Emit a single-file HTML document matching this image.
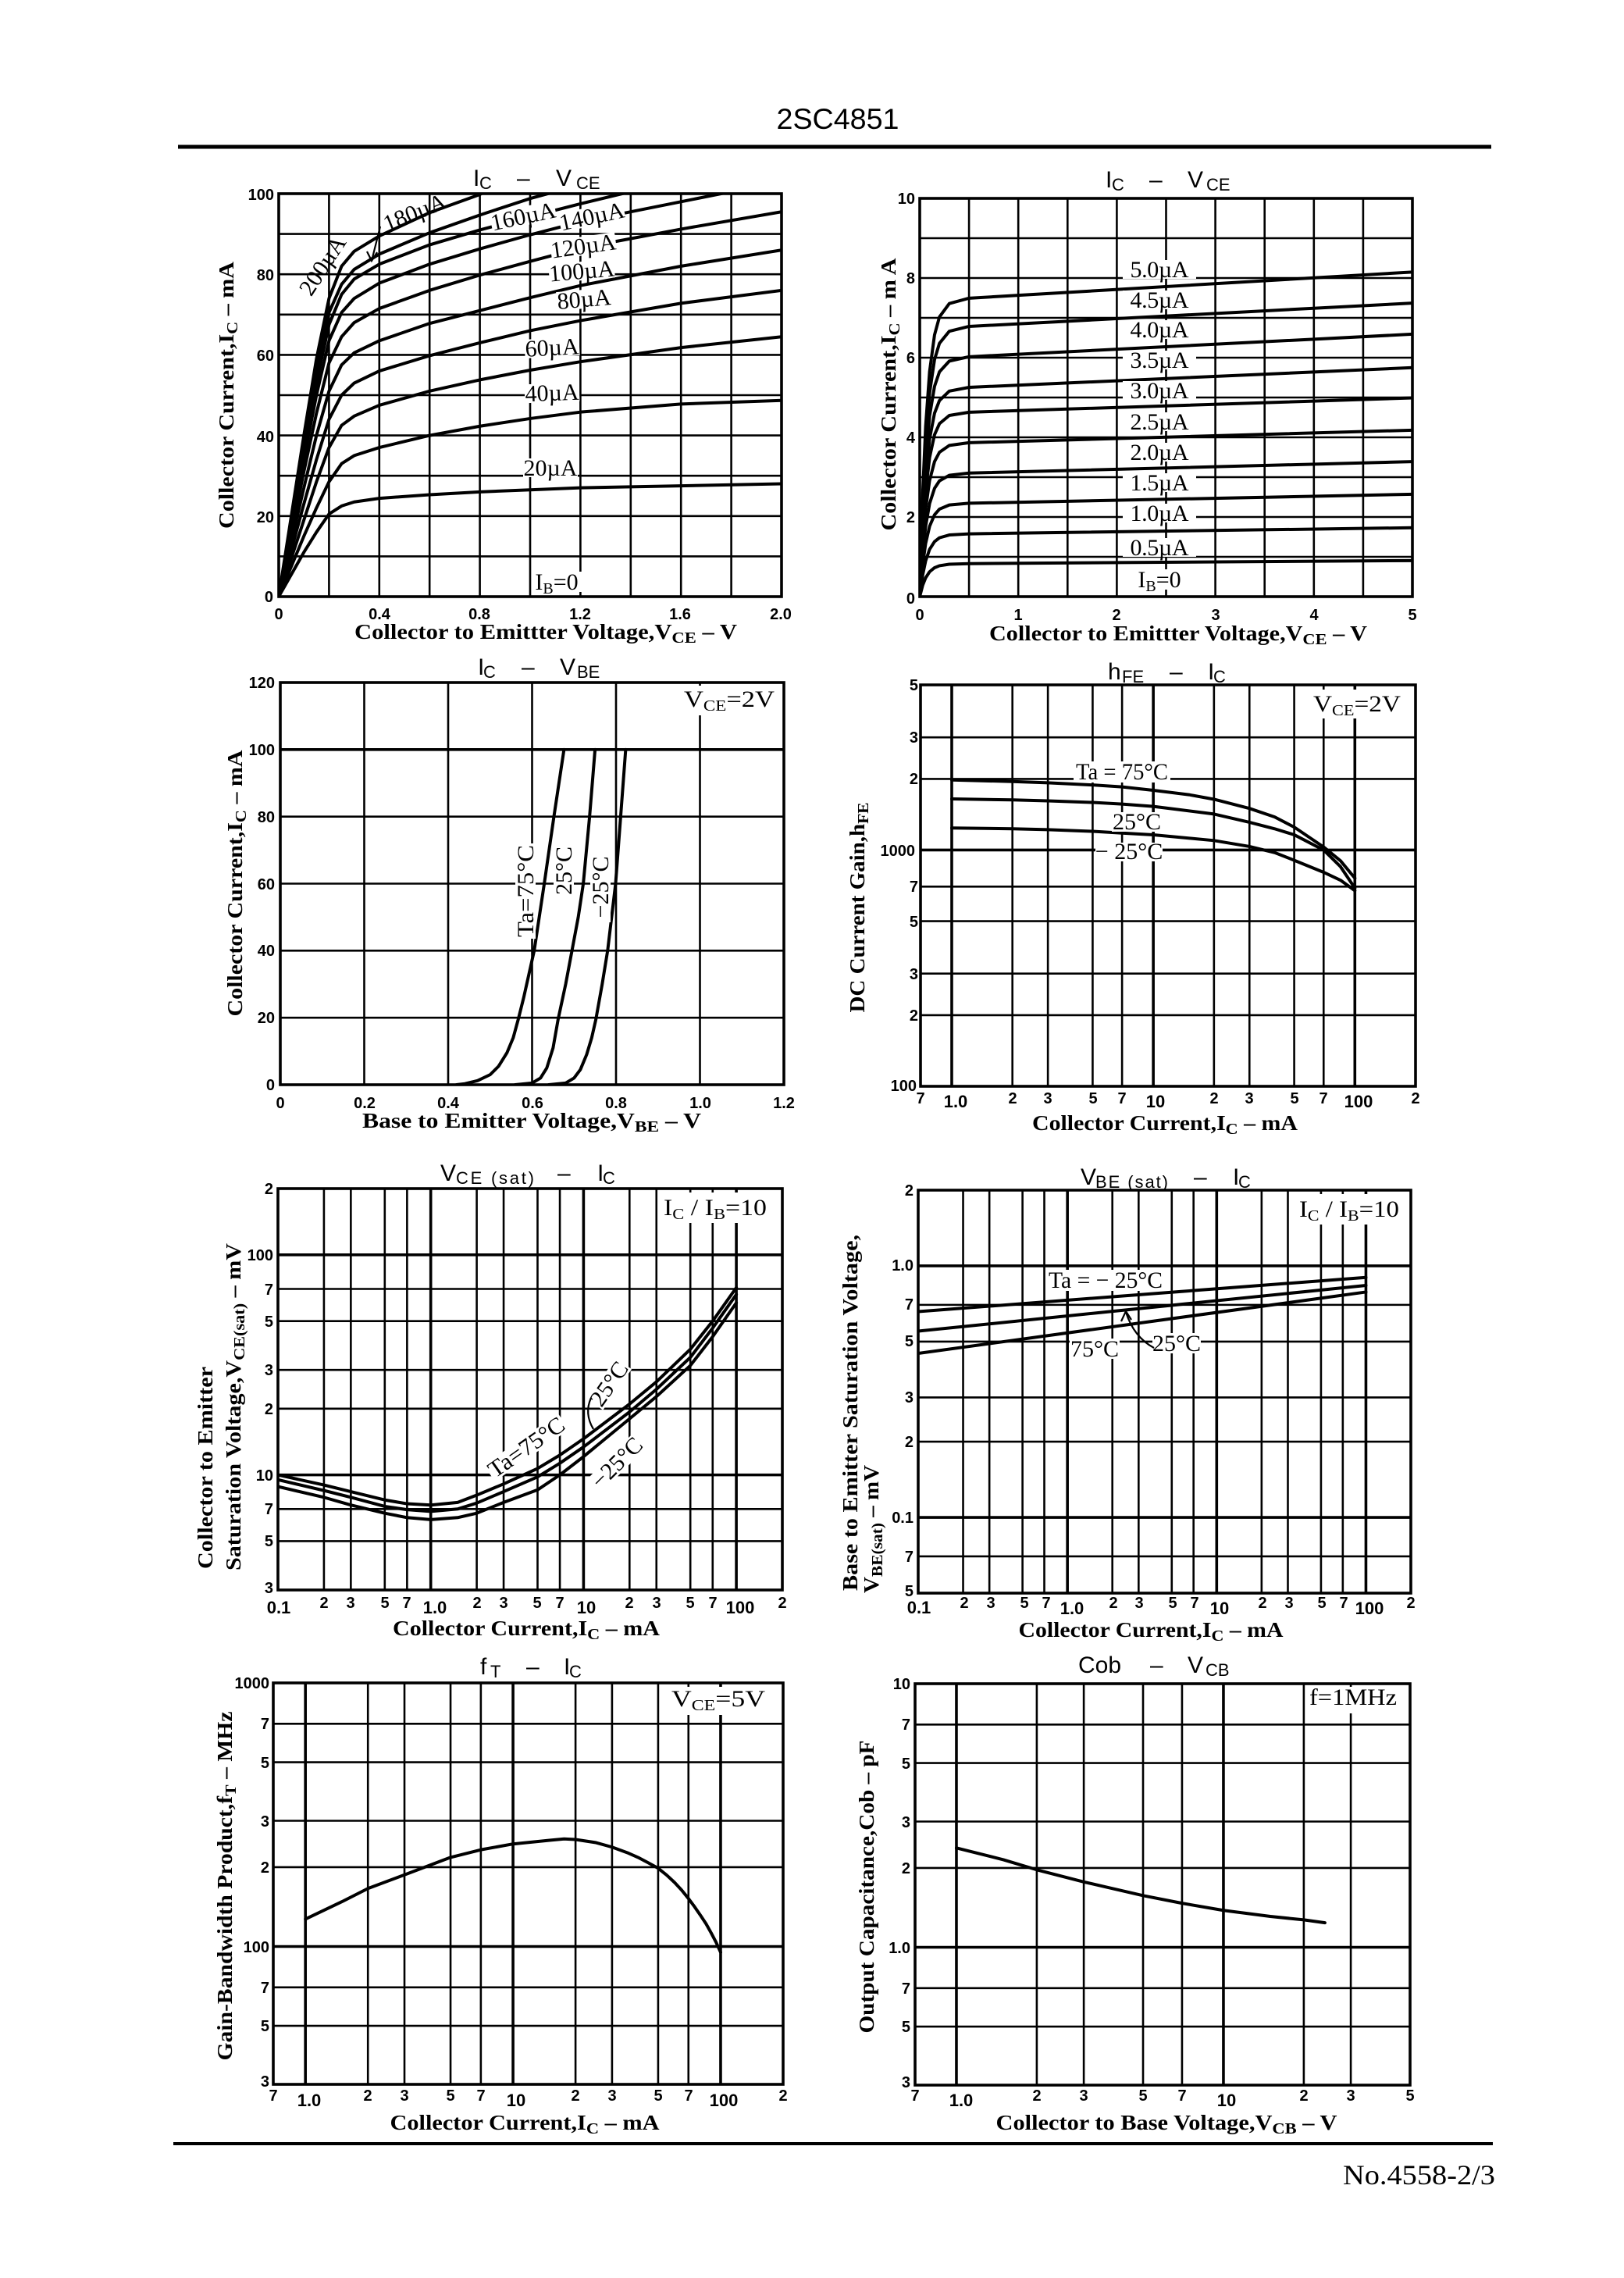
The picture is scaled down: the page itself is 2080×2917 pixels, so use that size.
<!DOCTYPE html>
<html><head><meta charset="utf-8">
<style>
html,body{margin:0;padding:0;background:#fff}
svg{display:block}
.tk{font-family:"Liberation Sans",sans-serif;font-weight:bold;font-size:20px}
.tkb{font-family:"Liberation Sans",sans-serif;font-weight:bold;font-size:22px}
.e{text-anchor:end}
.m{text-anchor:middle}
.ax{font-family:"Liberation Serif",serif;font-weight:bold;font-size:27px}
.lb{font-family:"Liberation Serif",serif;font-size:30px}
.ti{font-family:"Liberation Sans",sans-serif;font-size:30px}
.hd{font-family:"Liberation Sans",sans-serif;font-size:37px}
.ft{font-family:"Liberation Serif",serif;font-size:36px}
.g{fill:none;stroke:#000;stroke-width:2.6px;vector-effect:non-scaling-stroke}
.gt{fill:none;stroke:#000;stroke-width:3.6px;vector-effect:non-scaling-stroke}
.c{fill:none;stroke:#000;stroke-width:4px;stroke-linejoin:round;stroke-linecap:round;vector-effect:non-scaling-stroke}
.f{fill:none;stroke:#000;stroke-width:3.6px}
.w{fill:#fff}
.ld{fill:none;stroke:#000;stroke-width:2.2px}
</style></head><body>
<svg width="2080" height="2917" viewBox="0 0 2080 2917">
<rect width="2080" height="2917" fill="#fff"/>

<!-- Header / footer -->
<text class="hd m" x="1073" y="165" textLength="157" lengthAdjust="spacingAndGlyphs">2SC4851</text>
<line x1="228" y1="188" x2="1910" y2="188" stroke="#000" stroke-width="5"/>
<line x1="222" y1="2745" x2="1912" y2="2745" stroke="#000" stroke-width="4"/>
<text class="ft e" x="1915" y="2797" textLength="195" lengthAdjust="spacingAndGlyphs">No.4558-2/3</text>

<!-- ================= CHART 1 : IC - VCE (0-2V) ================= -->
<svg x="357" y="248" width="644" height="516" viewBox="0 -100 2 100" preserveAspectRatio="none">
<path class="g" d="M0.2,-100V0M0.4,-100V0M0.6,-100V0M0.8,-100V0M1,-100V0M1.2,-100V0M1.4,-100V0M1.6,-100V0M1.8,-100V0M0,-10H2M0,-20H2M0,-30H2M0,-40H2M0,-50H2M0,-60H2M0,-70H2M0,-80H2M0,-90H2"/>
<polyline class="c" points="0,0 0.05,-5.5 0.1,-11 0.15,-16 0.2,-20.5 0.25,-22.5 0.3,-23.5 0.4,-24.4 0.6,-25.3 0.8,-26 1,-26.5 1.2,-27 1.6,-27.5 2,-28"/>
<polyline class="c" points="0,0 0.05,-7.5 0.1,-15 0.15,-22 0.2,-28.5 0.25,-33 0.3,-35 0.4,-37 0.6,-40 0.8,-42.3 1,-44.2 1.2,-45.8 1.6,-47.8 2,-48.7"/>
<polyline class="c" points="0,0 0.05,-9.5 0.1,-19 0.15,-28.5 0.2,-37 0.25,-42.5 0.3,-44.8 0.4,-47.5 0.6,-51 0.8,-53.8 1,-56.2 1.2,-58.3 1.6,-61.8 2,-64.5"/>
<polyline class="c" points="0,0 0.05,-11.5 0.1,-23 0.15,-34 0.2,-44 0.25,-50 0.3,-53 0.4,-56 0.6,-59.8 0.8,-63 1,-66 1.2,-68.5 1.6,-72.8 2,-76"/>
<polyline class="c" points="0,0 0.05,-13.5 0.1,-27 0.15,-40 0.2,-51 0.25,-57.5 0.3,-60.5 0.4,-63.5 0.6,-67.8 0.8,-71 1,-74.2 1.2,-77.2 1.6,-82 2,-86"/>
<polyline class="c" points="0,0 0.05,-15.5 0.1,-31 0.15,-45.5 0.2,-58 0.25,-64.5 0.3,-68 0.4,-71.5 0.6,-76 0.8,-79.8 1,-83.2 1.2,-86.5 1.6,-91.2 2,-95.5"/>
<polyline class="c" points="0,0 0.05,-17 0.1,-34 0.15,-50 0.2,-63.5 0.25,-70.5 0.3,-74 0.4,-77.8 0.6,-82.5 0.8,-86.3 1,-89.8 1.2,-93 1.6,-98 1.8,-100.5"/>
<polyline class="c" points="0,0 0.05,-18 0.1,-36 0.15,-53 0.2,-67.5 0.25,-75 0.3,-78.8 0.4,-82.5 0.6,-87.3 0.8,-91 1,-94.3 1.2,-97.5 1.4,-100.5"/>
<polyline class="c" points="0,0 0.05,-19 0.1,-38 0.15,-56 0.2,-70.5 0.25,-77.5 0.3,-81.2 0.4,-85 0.6,-90.3 0.8,-94.7 1,-98.8 1.1,-100.5"/>
<polyline class="c" points="0,0 0.05,-20 0.1,-40 0.15,-59 0.2,-74 0.25,-82 0.3,-85.7 0.4,-89.5 0.6,-95.3 0.8,-99.8 0.82,-100.5"/>
</svg>
<g transform="translate(670,277) rotate(-12)"><rect class="w" x="-42" y="-12" width="84" height="24"/><text class="lb m" y="10">160µA</text></g>
<g transform="translate(758,277) rotate(-12)"><rect class="w" x="-42" y="-12" width="84" height="24"/><text class="lb m" y="10">140µA</text></g>
<g transform="translate(747,315) rotate(-8)"><rect class="w" x="-42" y="-12" width="84" height="24"/><text class="lb m" y="10">120µA</text></g>
<g transform="translate(745,347) rotate(-5)"><rect class="w" x="-42" y="-12" width="84" height="24"/><text class="lb m" y="10">100µA</text></g>
<g transform="translate(748,383) rotate(-5)"><rect class="w" x="-35" y="-12" width="70" height="24"/><text class="lb m" y="10">80µA</text></g>
<g transform="translate(707,445) rotate(-3)"><rect class="w" x="-35" y="-12" width="70" height="24"/><text class="lb m" y="10">60µA</text></g>
<g transform="translate(707,503) rotate(-2)"><rect class="w" x="-35" y="-12" width="70" height="24"/><text class="lb m" y="10">40µA</text></g>
<g transform="translate(705,599)"><rect class="w" x="-35" y="-12" width="70" height="24"/><text class="lb m" y="10">20µA</text></g>
<g transform="translate(713,745)"><rect class="w" x="-32" y="-13" width="64" height="26"/><text class="lb m" y="10">I<tspan dy="5" font-size="20">B</tspan><tspan dy="-5">=0</tspan></text></g>
<g transform="translate(531,272) rotate(-22)"><text class="lb m" y="10">180µA</text></g>
<g transform="translate(413,340) rotate(-57)"><text class="lb m" y="10">200µA</text></g>
<path class="ld" d="M487,290 L476,334 M470,322 L476,334 L483,323"/>
<rect class="f" x="357" y="248" width="644" height="516"/>
<text class="tk e" x="351" y="256">100</text>
<text class="tk e" x="351" y="359">80</text>
<text class="tk e" x="351" y="462">60</text>
<text class="tk e" x="351" y="566">40</text>
<text class="tk e" x="351" y="669">20</text>
<text class="tk e" x="350" y="771">0</text>
<text class="tk m" x="357" y="793">0</text>
<text class="tk m" x="486" y="793">0.4</text>
<text class="tk m" x="614" y="793">0.8</text>
<text class="tk m" x="743" y="793">1.2</text>
<text class="tk m" x="871" y="793">1.6</text>
<text class="tk m" x="1000" y="793">2.0</text>
<text class="ti" y="238"><tspan x="606">I</tspan><tspan x="614" dy="4" font-size="22">C</tspan><tspan x="662" dy="-4">–</tspan><tspan x="712">V</tspan><tspan x="738" dy="4" font-size="22">CE</tspan></text>
<text class="ax m" x="699" y="818" textLength="490" lengthAdjust="spacingAndGlyphs">Collector to Emittter Voltage,V<tspan dy="5" font-size="20">CE</tspan><tspan dy="-5"> – V</tspan></text>
<text class="ax m" transform="translate(299,506) rotate(-90)" textLength="342" lengthAdjust="spacingAndGlyphs">Collector Current,I<tspan dy="5" font-size="20">C</tspan><tspan dy="-5"> – mA</tspan></text>

<!-- ================= CHART 2 : IC - VCE (0-5V) ================= -->
<svg x="1178" y="254" width="631" height="510" viewBox="0 -10 5 10" preserveAspectRatio="none">
<path class="g" d="M0.5,-10V0M1,-10V0M1.5,-10V0M2,-10V0M2.5,-10V0M3,-10V0M3.5,-10V0M4,-10V0M4.5,-10V0M0,-1H5M0,-2H5M0,-3H5M0,-4H5M0,-5H5M0,-6H5M0,-7H5M0,-8H5M0,-9H5"/>
<polyline class="c" points="0,0 0.03,-0.286 0.06,-0.473 0.1,-0.625 0.15,-0.726 0.2,-0.776 0.3,-0.813 0.5,-0.829 5,-0.905"/>
<polyline class="c" points="0,0 0.03,-0.545 0.06,-0.9 0.1,-1.188 0.15,-1.382 0.2,-1.478 0.3,-1.548 0.5,-1.577 5,-1.73"/>
<polyline class="c" points="0,0 0.03,-0.81 0.06,-1.338 0.1,-1.767 0.15,-2.055 0.2,-2.197 0.3,-2.302 0.5,-2.345 5,-2.57"/>
<polyline class="c" points="0,0 0.03,-1.072 0.06,-1.77 0.1,-2.338 0.15,-2.719 0.2,-2.907 0.3,-3.046 0.5,-3.102 5,-3.39"/>
<polyline class="c" points="0,0 0.03,-1.337 0.06,-2.208 0.1,-2.916 0.15,-3.391 0.2,-3.625 0.3,-3.797 0.5,-3.865 5,-4.18"/>
<polyline class="c" points="0,0 0.03,-1.603 0.06,-2.647 0.1,-3.494 0.15,-4.064 0.2,-4.343 0.3,-4.549 0.5,-4.63 5,-4.99"/>
<polyline class="c" points="0,0 0.03,-1.816 0.06,-2.999 0.1,-3.96 0.15,-4.606 0.2,-4.924 0.3,-5.16 0.5,-5.255 5,-5.75"/>
<polyline class="c" points="0,0 0.03,-2.081 0.06,-3.437 0.1,-4.539 0.15,-5.279 0.2,-5.644 0.3,-5.914 0.5,-6.023 5,-6.59"/>
<polyline class="c" points="0,0 0.03,-2.347 0.06,-3.875 0.1,-5.117 0.15,-5.951 0.2,-6.361 0.3,-6.664 0.5,-6.785 5,-7.37"/>
<polyline class="c" points="0,0 0.03,-2.591 0.06,-4.279 0.1,-5.65 0.15,-6.571 0.2,-7.024 0.3,-7.36 0.5,-7.493 5,-8.15"/>
</svg>
<g class="lb m">
<rect class="w" x="1438" y="333" width="94" height="24"/><text x="1485" y="355" textLength="75">5.0µA</text>
<rect class="w" x="1438" y="372" width="94" height="24"/><text x="1485" y="394" textLength="75">4.5µA</text>
<rect class="w" x="1438" y="410" width="94" height="24"/><text x="1485" y="432" textLength="75">4.0µA</text>
<rect class="w" x="1438" y="449" width="94" height="24"/><text x="1485" y="471" textLength="75">3.5µA</text>
<rect class="w" x="1438" y="488" width="94" height="24"/><text x="1485" y="510" textLength="75">3.0µA</text>
<rect class="w" x="1438" y="528" width="94" height="24"/><text x="1485" y="550" textLength="75">2.5µA</text>
<rect class="w" x="1438" y="567" width="94" height="24"/><text x="1485" y="589" textLength="75">2.0µA</text>
<rect class="w" x="1438" y="606" width="94" height="24"/><text x="1485" y="628" textLength="75">1.5µA</text>
<rect class="w" x="1438" y="645" width="94" height="24"/><text x="1485" y="667" textLength="75">1.0µA</text>
<rect class="w" x="1438" y="689" width="94" height="24"/><text x="1485" y="711" textLength="75">0.5µA</text>
<rect class="w" x="1450" y="729" width="70" height="26"/><text x="1485" y="752">I<tspan dy="5" font-size="20">B</tspan><tspan dy="-5">=0</tspan></text>
</g>
<rect class="f" x="1178" y="254" width="631" height="510"/>
<text class="tk e" x="1172" y="261">10</text>
<text class="tk e" x="1172" y="363">8</text>
<text class="tk e" x="1172" y="465">6</text>
<text class="tk e" x="1172" y="567">4</text>
<text class="tk e" x="1172" y="669">2</text>
<text class="tk e" x="1172" y="773">0</text>
<text class="tk m" x="1178" y="794">0</text>
<text class="tk m" x="1304" y="794">1</text>
<text class="tk m" x="1430" y="794">2</text>
<text class="tk m" x="1557" y="794">3</text>
<text class="tk m" x="1683" y="794">4</text>
<text class="tk m" x="1809" y="794">5</text>
<text class="ti" y="240"><tspan x="1416">I</tspan><tspan x="1424" dy="4" font-size="22">C</tspan><tspan x="1472" dy="-4">–</tspan><tspan x="1521">V</tspan><tspan x="1545" dy="4" font-size="22">CE</tspan></text>
<text class="ax m" x="1509" y="820" textLength="484" lengthAdjust="spacingAndGlyphs">Collector to Emittter Voltage,V<tspan dy="5" font-size="20">CE</tspan><tspan dy="-5"> – V</tspan></text>
<text class="ax m" transform="translate(1147,505) rotate(-90)" textLength="349" lengthAdjust="spacingAndGlyphs">Collector Current,I<tspan dy="5" font-size="20">C</tspan><tspan dy="-5"> – m A</tspan></text>

<!-- ================= CHART 3 : IC - VBE ================= -->
<svg x="359" y="874" width="645" height="515" viewBox="0 -120 1.2 120" preserveAspectRatio="none">
<path class="g" d="M0.2,-120V0M0.4,-120V0M0.6,-120V0M0.8,-120V0M1,-120V0M0,-20H1.2M0,-40H1.2M0,-60H1.2M0,-80H1.2"/>
<path class="gt" d="M0,-100H1.2"/>
<polyline class="c" points="0.42,0 0.44,-0.3 0.47,-1.2 0.5,-3 0.52,-5.5 0.54,-9.5 0.555,-14 0.567,-19.5 0.58,-26 0.605,-40 0.629,-60 0.652,-80 0.676,-100"/>
<polyline class="c" points="0.56,0 0.6,-0.5 0.62,-2 0.635,-5 0.65,-11 0.662,-19.5 0.68,-30 0.695,-40 0.71,-50 0.722,-60 0.737,-80 0.75,-100"/>
<polyline class="c" points="0.64,0 0.68,-0.5 0.7,-2 0.715,-4.5 0.73,-9 0.742,-14 0.752,-19.5 0.767,-30 0.78,-40 0.799,-60 0.811,-80 0.823,-100"/>
</svg>
<g transform="translate(673,1141) rotate(-90)"><rect class="w" x="-61" y="-13" width="122" height="26"/><text class="lb m" y="10" textLength="118" lengthAdjust="spacingAndGlyphs">Ta=75°C</text></g>
<g transform="translate(722,1115) rotate(-90)"><rect class="w" x="-32" y="-13" width="64" height="26"/><text class="lb m" y="10">25°C</text></g>
<g transform="translate(769,1136) rotate(-90)"><rect class="w" x="-45" y="-13" width="90" height="26"/><text class="lb m" y="10">−25°C</text></g>
<rect class="w" x="870" y="878" width="130" height="38"/>
<text class="lb m" x="934" y="905" textLength="116" lengthAdjust="spacingAndGlyphs">V<tspan dy="5" font-size="20">CE</tspan><tspan dy="-5">=2V</tspan></text>
<rect class="f" x="359" y="874" width="645" height="515"/>
<text class="tk e" x="352" y="881">120</text>
<text class="tk e" x="352" y="967">100</text>
<text class="tk e" x="352" y="1053">80</text>
<text class="tk e" x="352" y="1139">60</text>
<text class="tk e" x="352" y="1224">40</text>
<text class="tk e" x="352" y="1310">20</text>
<text class="tk e" x="352" y="1396">0</text>
<text class="tk m" x="359" y="1419">0</text>
<text class="tk m" x="467" y="1419">0.2</text>
<text class="tk m" x="574" y="1419">0.4</text>
<text class="tk m" x="682" y="1419">0.6</text>
<text class="tk m" x="789" y="1419">0.8</text>
<text class="tk m" x="897" y="1419">1.0</text>
<text class="tk m" x="1004" y="1419">1.2</text>
<text class="ti" y="864"><tspan x="612">I</tspan><tspan x="619" dy="4" font-size="22">C</tspan><tspan x="668" dy="-4">–</tspan><tspan x="717">V</tspan><tspan x="739" dy="4" font-size="22">BE</tspan></text>
<text class="ax m" x="681" y="1444" textLength="434" lengthAdjust="spacingAndGlyphs">Base to Emitter Voltage,V<tspan dy="5" font-size="20">BE</tspan><tspan dy="-5"> – V</tspan></text>
<text class="ax m" transform="translate(310,1131) rotate(-90)" textLength="341" lengthAdjust="spacingAndGlyphs">Collector Current,I<tspan dy="5" font-size="20">C</tspan><tspan dy="-5"> – mA</tspan></text>

<!-- ================= CHART 4 : hFE - IC ================= -->
<svg x="1179" y="877" width="634" height="514" viewBox="-0.1549 -3.699 2.4559 1.699" preserveAspectRatio="none">
<path class="g" d="M0.301,-3.699V-2M0.477,-3.699V-2M0.699,-3.699V-2M0.845,-3.699V-2M1.301,-3.699V-2M1.477,-3.699V-2M1.699,-3.699V-2M1.845,-3.699V-2M-0.1549,-2.301H2.301M-0.1549,-2.477H2.301M-0.1549,-2.699H2.301M-0.1549,-2.845H2.301M-0.1549,-3.301H2.301M-0.1549,-3.477H2.301"/>
<path class="gt" d="M0,-3.699V-2M1,-3.699V-2M2,-3.699V-2M-0.1549,-3H2.301"/>
<polyline class="c" points="0,-3.2967 0.301,-3.29 0.477,-3.2844 0.699,-3.2753 0.845,-3.2672 1,-3.2529 1.176,-3.2343 1.301,-3.2148 1.477,-3.1761 1.602,-3.1399 1.699,-3.0969 1.845,-3.0128 1.929,-2.9542 2,-2.8808"/>
<polyline class="c" points="0,-3.2162 0.301,-3.2122 0.477,-3.2082 0.699,-3.2014 0.845,-3.1945 1,-3.1847 1.301,-3.1523 1.477,-3.1173 1.602,-3.0899 1.699,-3.0645 1.845,-3 1.929,-2.9294 2,-2.8388"/>
<polyline class="c" points="0,-3.0934 0.301,-3.0899 0.477,-3.0864 0.699,-3.0792 0.845,-3.0719 1,-3.0645 1.301,-3.0402 1.477,-3.0149 1.602,-2.989 1.699,-2.9566 1.845,-2.9058 1.929,-2.8722 2,-2.828"/>
</svg>
<rect class="w" x="1375" y="975" width="124" height="27"/>
<text class="lb m" x="1437" y="998" textLength="118" lengthAdjust="spacingAndGlyphs">Ta = 75°C</text>
<rect class="w" x="1424" y="1040" width="64" height="25"/>
<text class="lb m" x="1456" y="1062">25°C</text>
<rect class="w" x="1403" y="1079" width="86" height="24"/>
<text class="lb m" x="1446" y="1100">− 25°C</text>
<rect class="w" x="1678" y="883" width="124" height="37"/>
<text class="lb m" x="1738" y="911" textLength="112" lengthAdjust="spacingAndGlyphs">V<tspan dy="5" font-size="20">CE</tspan><tspan dy="-5">=2V</tspan></text>
<rect class="f" x="1179" y="877" width="634" height="514"/>
<text class="tk e" x="1176" y="884">5</text>
<text class="tk e" x="1176" y="951">3</text>
<text class="tk e" x="1176" y="1004">2</text>
<text class="tk e" x="1172" y="1096">1000</text>
<text class="tk e" x="1176" y="1142">7</text>
<text class="tk e" x="1176" y="1187">5</text>
<text class="tk e" x="1176" y="1254">3</text>
<text class="tk e" x="1176" y="1307">2</text>
<text class="tk e" x="1174" y="1397">100</text>
<text class="tk m" x="1179" y="1413">7</text>
<text class="tkb m" x="1224" y="1418">1.0</text>
<text class="tk m" x="1297" y="1413">2</text>
<text class="tk m" x="1342" y="1413">3</text>
<text class="tk m" x="1400" y="1413">5</text>
<text class="tk m" x="1437" y="1413">7</text>
<text class="tkb m" x="1480" y="1418">10</text>
<text class="tk m" x="1555" y="1413">2</text>
<text class="tk m" x="1600" y="1413">3</text>
<text class="tk m" x="1658" y="1413">5</text>
<text class="tk m" x="1695" y="1413">7</text>
<text class="tkb m" x="1740" y="1418">100</text>
<text class="tk m" x="1813" y="1413">2</text>
<text class="ti" y="870"><tspan x="1419">h</tspan><tspan x="1437" dy="4" font-size="22">FE</tspan><tspan x="1498" dy="-4">–</tspan><tspan x="1547">I</tspan><tspan x="1554" dy="4" font-size="22">C</tspan></text>
<text class="ax m" x="1492" y="1447" textLength="340" lengthAdjust="spacingAndGlyphs">Collector Current,I<tspan dy="5" font-size="20">C</tspan><tspan dy="-5"> – mA</tspan></text>
<text class="ax m" transform="translate(1107,1162) rotate(-90)" textLength="269" lengthAdjust="spacingAndGlyphs">DC Current Gain,h<tspan dy="5" font-size="20">FE</tspan></text>

<!-- ================= CHART 5 : VCE(sat) - IC ================= -->
<svg x="356" y="1522" width="646" height="514" viewBox="-1 -2.301 3.301 1.824" preserveAspectRatio="none">
<path class="g" d="M-0.699,-2.301V-0.477M-0.523,-2.301V-0.477M-0.301,-2.301V-0.477M-0.155,-2.301V-0.477M0.301,-2.301V-0.477M0.477,-2.301V-0.477M0.699,-2.301V-0.477M0.845,-2.301V-0.477M1.301,-2.301V-0.477M1.477,-2.301V-0.477M1.699,-2.301V-0.477M1.845,-2.301V-0.477M-1,-0.699H2.301M-1,-0.845H2.301M-1,-1.301H2.301M-1,-1.477H2.301M-1,-1.699H2.301M-1,-1.845H2.301"/>
<path class="gt" d="M0,-2.301V-0.477M1,-2.301V-0.477M2,-2.301V-0.477M-1,-1H2.301M-1,-2H2.301"/>
<polyline class="c" points="-1,-1 -0.699,-0.954 -0.523,-0.924 -0.301,-0.886 -0.155,-0.869 0,-0.863 0.176,-0.875 0.301,-0.908 0.477,-0.959 0.699,-1.029 0.845,-1.09 1,-1.164 1.301,-1.322 1.477,-1.423 1.699,-1.571 1.845,-1.699 2,-1.851"/>
<polyline class="c" points="-1,-0.978 -0.699,-0.929 -0.523,-0.898 -0.301,-0.857 -0.155,-0.842 0,-0.834 0.176,-0.845 0.301,-0.872 0.477,-0.924 0.699,-0.991 0.845,-1.053 1,-1.127 1.301,-1.286 1.477,-1.389 1.699,-1.534 1.845,-1.667 2,-1.82"/>
<polyline class="c" points="-1,-0.947 -0.699,-0.898 -0.523,-0.863 -0.301,-0.826 -0.155,-0.806 0,-0.797 0.176,-0.806 0.301,-0.826 0.477,-0.875 0.699,-0.932 0.845,-1 1,-1.083 1.301,-1.255 1.477,-1.356 1.699,-1.497 1.845,-1.628 2,-1.782"/>
</svg>
<g transform="translate(674,1853) rotate(-35)"><rect class="w" x="-58" y="-12" width="116" height="25"/><text class="lb m" y="10" textLength="112" lengthAdjust="spacingAndGlyphs">Ta=75°C</text></g>
<g transform="translate(780,1772) rotate(-55)"><rect class="w" x="-32" y="-12" width="64" height="25"/><text class="lb m" y="10">25°C</text></g>
<g transform="translate(790,1873) rotate(-45)"><rect class="w" x="-42" y="-12" width="84" height="25"/><text class="lb m" y="10">−25°C</text></g>
<path class="ld" d="M757,1790 Q748,1810 760,1830"/>
<rect class="w" x="846" y="1527" width="142" height="39"/>
<text class="lb m" x="916" y="1556" textLength="132" lengthAdjust="spacingAndGlyphs">I<tspan dy="5" font-size="20">C</tspan><tspan dy="-5"> / I</tspan><tspan dy="5" font-size="20">B</tspan><tspan dy="-5">=10</tspan></text>
<rect class="f" x="356" y="1522" width="646" height="514"/>
<text class="tk e" x="350" y="1529">2</text>
<text class="tk e" x="350" y="1614">100</text>
<text class="tk e" x="350" y="1658">7</text>
<text class="tk e" x="350" y="1699">5</text>
<text class="tk e" x="350" y="1761">3</text>
<text class="tk e" x="350" y="1811">2</text>
<text class="tk e" x="350" y="1896">10</text>
<text class="tk e" x="350" y="1939">7</text>
<text class="tk e" x="350" y="1980">5</text>
<text class="tk e" x="350" y="2040">3</text>
<text class="tkb m" x="357" y="2066">0.1</text>
<text class="tk m" x="415" y="2059">2</text>
<text class="tk m" x="449" y="2059">3</text>
<text class="tk m" x="493" y="2059">5</text>
<text class="tk m" x="521" y="2059">7</text>
<text class="tkb m" x="557" y="2066">1.0</text>
<text class="tk m" x="611" y="2059">2</text>
<text class="tk m" x="645" y="2059">3</text>
<text class="tk m" x="688" y="2059">5</text>
<text class="tk m" x="717" y="2059">7</text>
<text class="tkb m" x="751" y="2066">10</text>
<text class="tk m" x="806" y="2059">2</text>
<text class="tk m" x="841" y="2059">3</text>
<text class="tk m" x="884" y="2059">5</text>
<text class="tk m" x="913" y="2059">7</text>
<text class="tkb m" x="948" y="2066">100</text>
<text class="tk m" x="1002" y="2059">2</text>
<text class="ti" y="1512"><tspan x="564">V</tspan><tspan x="584" dy="4" font-size="22" textLength="100" lengthAdjust="spacing">CE (sat)</tspan><tspan x="714" dy="-4">–</tspan><tspan x="765">I</tspan><tspan x="772" dy="4" font-size="22">C</tspan></text>
<text class="ax m" x="674" y="2094" textLength="342" lengthAdjust="spacingAndGlyphs">Collector Current,I<tspan dy="5" font-size="20">C</tspan><tspan dy="-5"> – mA</tspan></text>
<text class="ax" transform="translate(272,2009) rotate(-90)" textLength="259" lengthAdjust="spacingAndGlyphs">Collector to Emitter</text>
<text class="ax" transform="translate(308,2011) rotate(-90)" textLength="419" lengthAdjust="spacingAndGlyphs">Saturation Voltage,V<tspan dy="5" font-size="20">CE(sat)</tspan><tspan dy="-5"> – mV</tspan></text>

<!-- ================= CHART 6 : VBE(sat) - IC ================= -->
<svg x="1176" y="1524" width="631" height="516" viewBox="-1 -0.301 3.301 1.602" preserveAspectRatio="none">
<path class="g" d="M-0.699,-0.301V1.301M-0.523,-0.301V1.301M-0.301,-0.301V1.301M-0.155,-0.301V1.301M0.301,-0.301V1.301M0.477,-0.301V1.301M0.699,-0.301V1.301M0.845,-0.301V1.301M1.301,-0.301V1.301M1.477,-0.301V1.301M1.699,-0.301V1.301M1.845,-0.301V1.301M-1,1.155H2.301M-1,0.699H2.301M-1,0.523H2.301M-1,0.301H2.301M-1,0.155H2.301"/>
<path class="gt" d="M0,-0.301V1.301M1,-0.301V1.301M2,-0.301V1.301M-1,0H2.301M-1,1H2.301"/>
<polyline class="c" points="-1,0.1818 2,0.0458"/>
<polyline class="c" points="-1,0.2596 2,0.0778"/>
<polyline class="c" points="-1,0.3478 2,0.104"/>
</svg>
<rect class="w" x="1342" y="1626" width="150" height="27"/>
<text class="lb m" x="1416" y="1649" textLength="146" lengthAdjust="spacingAndGlyphs">Ta = − 25°C</text>
<rect class="w" x="1370" y="1714" width="64" height="26"/>
<text class="lb m" x="1402" y="1737">75°C</text>
<rect class="w" x="1476" y="1707" width="62" height="26"/>
<text class="lb m" x="1507" y="1730">25°C</text>
<path class="ld" d="M1478,1726 Q1452,1712 1442,1680 M1436,1692 L1442,1679 L1449,1690"/>
<rect class="w" x="1660" y="1529" width="137" height="39"/>
<text class="lb m" x="1728" y="1558" textLength="128" lengthAdjust="spacingAndGlyphs">I<tspan dy="5" font-size="20">C</tspan><tspan dy="-5"> / I</tspan><tspan dy="5" font-size="20">B</tspan><tspan dy="-5">=10</tspan></text>
<rect class="f" x="1176" y="1524" width="631" height="516"/>
<text class="tk e" x="1170" y="1531">2</text>
<text class="tk e" x="1170" y="1627">1.0</text>
<text class="tk e" x="1170" y="1677">7</text>
<text class="tk e" x="1170" y="1724">5</text>
<text class="tk e" x="1170" y="1796">3</text>
<text class="tk e" x="1170" y="1853">2</text>
<text class="tk e" x="1170" y="1950">0.1</text>
<text class="tk e" x="1170" y="2000">7</text>
<text class="tk e" x="1170" y="2044">5</text>
<text class="tkb m" x="1177" y="2066">0.1</text>
<text class="tk m" x="1235" y="2059">2</text>
<text class="tk m" x="1269" y="2059">3</text>
<text class="tk m" x="1312" y="2059">5</text>
<text class="tk m" x="1340" y="2059">7</text>
<text class="tkb m" x="1373" y="2067">1.0</text>
<text class="tk m" x="1426" y="2059">2</text>
<text class="tk m" x="1459" y="2059">3</text>
<text class="tk m" x="1502" y="2059">5</text>
<text class="tk m" x="1530" y="2059">7</text>
<text class="tkb m" x="1562" y="2067">10</text>
<text class="tk m" x="1617" y="2059">2</text>
<text class="tk m" x="1651" y="2059">3</text>
<text class="tk m" x="1693" y="2059">5</text>
<text class="tk m" x="1721" y="2059">7</text>
<text class="tkb m" x="1754" y="2067">100</text>
<text class="tk m" x="1807" y="2059">2</text>
<text class="ti" y="1517"><tspan x="1384">V</tspan><tspan x="1403" dy="4" font-size="22" textLength="93" lengthAdjust="spacing">BE (sat)</tspan><tspan x="1529" dy="-4">–</tspan><tspan x="1579">I</tspan><tspan x="1586" dy="4" font-size="22">C</tspan></text>
<text class="ax m" x="1474" y="2096" textLength="339" lengthAdjust="spacingAndGlyphs">Collector Current,I<tspan dy="5" font-size="20">C</tspan><tspan dy="-5"> – mA</tspan></text>
<text class="ax" transform="translate(1098,2037) rotate(-90)" textLength="456" lengthAdjust="spacingAndGlyphs">Base to Emitter Saturation Voltage,</text>
<text class="ax" transform="translate(1125,2040) rotate(-90)" textLength="164" lengthAdjust="spacingAndGlyphs">V<tspan dy="5" font-size="20">BE(sat)</tspan><tspan dy="-5"> – mV</tspan></text>

<!-- ================= CHART 7 : fT - IC ================= -->
<svg x="350" y="2155" width="653" height="514" viewBox="-0.1549 -3 2.4559 1.523" preserveAspectRatio="none">
<path class="g" d="M0.301,-3V-1.477M0.477,-3V-1.477M0.699,-3V-1.477M0.845,-3V-1.477M1.301,-3V-1.477M1.477,-3V-1.477M1.699,-3V-1.477M1.845,-3V-1.477M-0.1549,-1.699H2.301M-0.1549,-1.845H2.301M-0.1549,-2.301H2.301M-0.1549,-2.477H2.301M-0.1549,-2.699H2.301M-0.1549,-2.845H2.301"/>
<path class="gt" d="M0,-3V-1.477M1,-3V-1.477M2,-3V-1.477M-0.1549,-2H2.301"/>
<polyline class="c" points="0,-2.104 0.176,-2.17 0.301,-2.22 0.477,-2.272 0.699,-2.338 0.845,-2.367 1,-2.389 1.176,-2.403 1.246,-2.408 1.301,-2.406 1.4,-2.394 1.477,-2.377 1.55,-2.356 1.602,-2.338 1.65,-2.318 1.699,-2.297 1.74,-2.271 1.778,-2.243 1.812,-2.214 1.845,-2.182 1.875,-2.15 1.903,-2.118 1.93,-2.086 1.954,-2.052 1.978,-2.016 2,-1.978"/>
</svg>
<rect class="w" x="856" y="2160" width="134" height="36"/>
<text class="lb m" x="920" y="2185" textLength="120" lengthAdjust="spacingAndGlyphs">V<tspan dy="5" font-size="20">CE</tspan><tspan dy="-5">=5V</tspan></text>
<rect class="f" x="350" y="2155" width="653" height="514"/>
<text class="tk e" x="345" y="2162">1000</text>
<text class="tk e" x="345" y="2214">7</text>
<text class="tk e" x="345" y="2264">5</text>
<text class="tk e" x="345" y="2339">3</text>
<text class="tk e" x="345" y="2398">2</text>
<text class="tk e" x="345" y="2500">100</text>
<text class="tk e" x="345" y="2552">7</text>
<text class="tk e" x="345" y="2601">5</text>
<text class="tk e" x="345" y="2672">3</text>
<text class="tk m" x="350" y="2690">7</text>
<text class="tkb m" x="396" y="2697">1.0</text>
<text class="tk m" x="471" y="2690">2</text>
<text class="tk m" x="518" y="2690">3</text>
<text class="tk m" x="577" y="2690">5</text>
<text class="tk m" x="616" y="2690">7</text>
<text class="tkb m" x="661" y="2697">10</text>
<text class="tk m" x="737" y="2690">2</text>
<text class="tk m" x="784" y="2690">3</text>
<text class="tk m" x="843" y="2690">5</text>
<text class="tk m" x="882" y="2690">7</text>
<text class="tkb m" x="927" y="2697">100</text>
<text class="tk m" x="1003" y="2690">2</text>
<text class="ti" y="2144"><tspan x="615">f</tspan><tspan x="628" dy="4" font-size="22">T</tspan><tspan x="674" dy="-4">–</tspan><tspan x="722">I</tspan><tspan x="729" dy="4" font-size="22">C</tspan></text>
<text class="ax m" x="672" y="2727" textLength="345" lengthAdjust="spacingAndGlyphs">Collector Current,I<tspan dy="5" font-size="20">C</tspan><tspan dy="-5"> – mA</tspan></text>
<text class="ax m" transform="translate(297,2415) rotate(-90)" textLength="447" lengthAdjust="spacingAndGlyphs">Gain-Bandwidth Product,f<tspan dy="5" font-size="20">T</tspan><tspan dy="-5"> – MHz</tspan></text>

<!-- ================= CHART 8 : Cob - VCB ================= -->
<svg x="1172" y="2156" width="634" height="514" viewBox="-0.1549 -1 1.8539 1.523" preserveAspectRatio="none">
<path class="g" d="M0.301,-1V0.523M0.477,-1V0.523M0.699,-1V0.523M0.845,-1V0.523M1.301,-1V0.523M1.477,-1V0.523M-0.1549,0.301H1.699M-0.1549,0.155H1.699M-0.1549,-0.301H1.699M-0.1549,-0.477H1.699M-0.1549,-0.699H1.699M-0.1549,-0.845H1.699"/>
<path class="gt" d="M0,-1V0.523M1,-1V0.523M-0.1549,0H1.699"/>
<polyline class="c" points="0,-0.377 0.176,-0.332 0.301,-0.294 0.477,-0.248 0.699,-0.196 0.845,-0.167 1,-0.14 1.176,-0.117 1.301,-0.104 1.38,-0.093"/>
</svg>
<rect class="w" x="1672" y="2160" width="123" height="34"/>
<text class="lb m" x="1733" y="2183" textLength="112" lengthAdjust="spacingAndGlyphs">f=1MHz</text>
<rect class="f" x="1172" y="2156" width="634" height="514"/>
<text class="tk e" x="1166" y="2163">10</text>
<text class="tk e" x="1166" y="2215">7</text>
<text class="tk e" x="1166" y="2265">5</text>
<text class="tk e" x="1166" y="2340">3</text>
<text class="tk e" x="1166" y="2399">2</text>
<text class="tk e" x="1166" y="2501">1.0</text>
<text class="tk e" x="1166" y="2553">7</text>
<text class="tk e" x="1166" y="2602">5</text>
<text class="tk e" x="1166" y="2673">3</text>
<text class="tk m" x="1172" y="2690">7</text>
<text class="tkb m" x="1231" y="2697">1.0</text>
<text class="tk m" x="1328" y="2690">2</text>
<text class="tk m" x="1388" y="2690">3</text>
<text class="tk m" x="1464" y="2690">5</text>
<text class="tk m" x="1514" y="2690">7</text>
<text class="tkb m" x="1571" y="2697">10</text>
<text class="tk m" x="1670" y="2690">2</text>
<text class="tk m" x="1730" y="2690">3</text>
<text class="tk m" x="1806" y="2690">5</text>
<text class="ti" y="2142"><tspan x="1381">Cob</tspan><tspan x="1473">–</tspan><tspan x="1521">V</tspan><tspan x="1544" dy="4" font-size="22">CB</tspan></text>
<text class="ax m" x="1494" y="2727" textLength="437" lengthAdjust="spacingAndGlyphs">Collector to Base Voltage,V<tspan dy="5" font-size="20">CB</tspan><tspan dy="-5"> – V</tspan></text>
<text class="ax m" transform="translate(1119,2416) rotate(-90)" textLength="375" lengthAdjust="spacingAndGlyphs">Output Capacitance,Cob – pF</text>

</svg>
</body></html>
